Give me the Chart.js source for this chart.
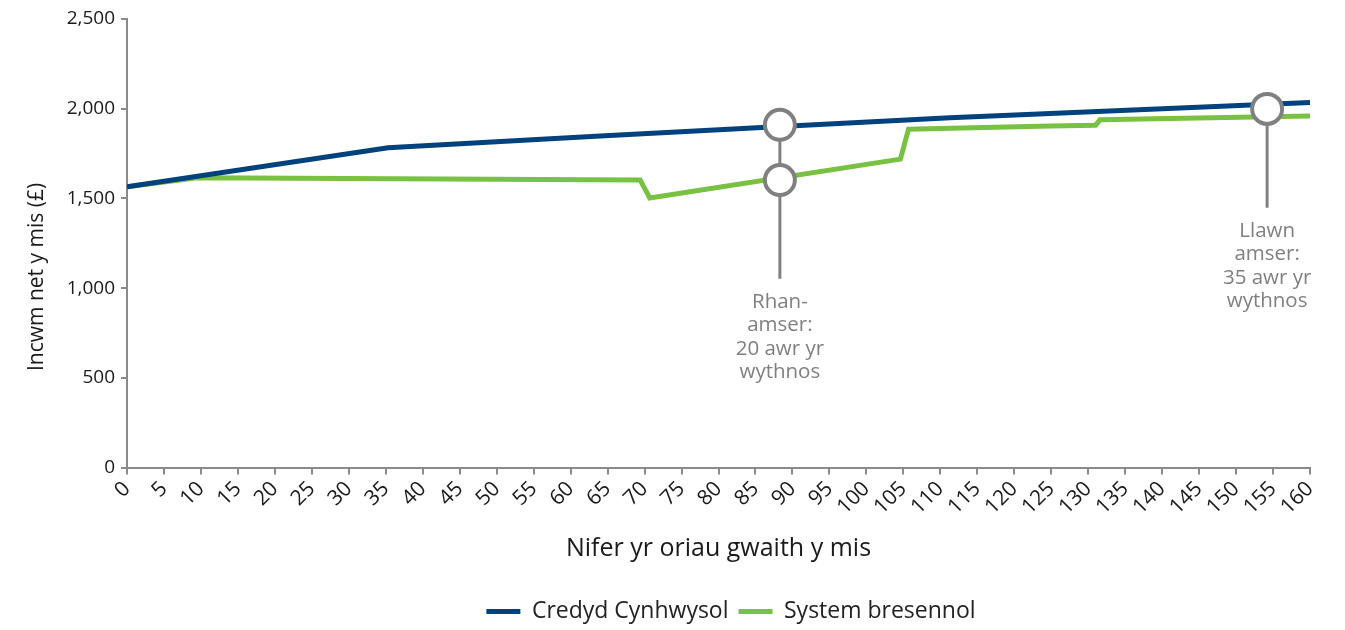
<!DOCTYPE html>
<html>
<head>
<meta charset="utf-8">
<script src="https://cdn.jsdelivr.net/npm/chart.js@4/dist/chart.umd.min.js"></script>
<style>
  html, body { margin: 0; padding: 0; background: #ffffff; }
  #wrap { width: 1345px; height: 630px; position: relative; }
</style>
</head>
<body>
<div id="wrap"><canvas id="c" width="1345" height="630"></canvas></div>
<script>
// ---- Data ----
const seriesNames = ['Credyd Cynhwysol', 'System bresennol'];
const ucHours  = [0, 35.3, 64.0, 88.4, 111.3, 160];
const ucIncome = [1565, 1782, 1848, 1901, 1950, 2034];
const legacyHours  = [0, 9.5, 69.4, 70.7, 104.6, 105.7, 124.9, 131.0, 131.6, 160];
const legacyIncome = [1565, 1615, 1603, 1502, 1719, 1886, 1904, 1908, 1938, 1960];
const markerHours  = [88.3, 88.3, 154.2];
const markerIncome = [1910, 1602, 1999];
// callouts: x, top of stem (income), bottom of stem (income), text lines
const calloutHours = [88.3, 154.2];
const calloutTop = [1910, 1999];
const calloutBottom = [1052, 1448];
const calloutText = [
  ['Rhan-', 'amser:', '20 awr yr', 'wythnos'],
  ['Llawn', 'amser:', '35 awr yr', 'wythnos']
];
const xTitle = 'Nifer yr oriau gwaith y mis';
const yTitle = 'Incwm net y mis (£)';

const BLUE = '#00427d';
const GREEN = '#78c142';
const GREY = '#808080';
const AXIS = '#8a8a8a';
const FONT = "'Open Sans', 'Noto Sans', sans-serif";

const toXY = (xs, ys) => xs.map((x, i) => ({x: x, y: ys[i]}));

const calloutPlugin = {
  id: 'callouts',
  afterLayout(chart) {
    const l = chart.legend;
    if (l) { l.left += 76; l.right += 76; l.top += 3; l.bottom += 3; }
  },
  beforeDatasetsDraw(chart) {
    const {ctx, scales: {x, y}} = chart;
    ctx.save();
    ctx.strokeStyle = GREY;
    ctx.lineWidth = 3;
    calloutHours.forEach((h, i) => {
      const px = x.getPixelForValue(h);
      ctx.beginPath();
      ctx.moveTo(px, y.getPixelForValue(calloutTop[i]));
      ctx.lineTo(px, y.getPixelForValue(calloutBottom[i]));
      ctx.stroke();
    });
    ctx.restore();
  },
  afterDatasetsDraw(chart) {
    const {ctx, scales: {x, y}} = chart;
    ctx.save();
    ctx.fillStyle = GREY;
    ctx.font = "20.5px " + FONT;
    ctx.textAlign = 'center';
    ctx.textBaseline = 'alphabetic';
    calloutHours.forEach((h, i) => {
      const px = x.getPixelForValue(h);
      const py = y.getPixelForValue(calloutBottom[i]);
      calloutText[i].forEach((t, j) => {
        ctx.fillText(t, px, py + 29 + j * 23.5);
      });
    });
    // y axis title
    ctx.fillStyle = '#1a1a1a';
    ctx.font = "21px " + FONT;
    ctx.textBaseline = 'middle';
    ctx.translate(37, 277);
    ctx.rotate(-Math.PI / 2);
    ctx.fillText(yTitle, 0, 0);
    ctx.restore();
  }
};

new Chart(document.getElementById('c'), {
  type: 'line',
  data: {
    datasets: [
      {
        label: '',
        data: toXY(markerHours, markerIncome),
        showLine: false,
        pointRadius: 15,
        pointHoverRadius: 15,
        pointBackgroundColor: '#ffffff',
        pointBorderColor: GREY,
        pointBorderWidth: 4,
        borderColor: GREY,
        order: 0
      },
      {
        label: seriesNames[0],
        data: toXY(ucHours, ucIncome),
        borderColor: BLUE,
        backgroundColor: BLUE,
        borderWidth: 5,
        pointRadius: 0,
        tension: 0,
        order: 1
      },
      {
        label: seriesNames[1],
        data: toXY(legacyHours, legacyIncome),
        borderColor: GREEN,
        backgroundColor: GREEN,
        borderWidth: 5,
        pointRadius: 0,
        tension: 0,
        order: 2
      }
    ]
  },
  options: {
    responsive: false,
    animation: false,
    events: [],
    layout: { padding: { top: 8, right: 35, left: 0, bottom: 0 } },
    plugins: {
      tooltip: { enabled: false },
      legend: {
        position: 'bottom',
        labels: {
          filter: (item) => item.text !== '',
          usePointStyle: true,
          pointStyle: 'line',
          pointStyleWidth: 34,
          boxHeight: 23,
          padding: 10,
          color: '#222222',
          font: { family: FONT, size: 23 }
        }
      }
    },
    scales: {
      x: {
        type: 'linear',
        min: 0,
        max: 160,
        afterFit: (s) => { s.height = 119.5; },
        ticks: {
          stepSize: 5,
          autoSkip: false,
          minRotation: 45,
          maxRotation: 45,
          padding: 2,
          color: '#1a1a1a',
          font: { family: FONT, size: 21 }
        },
        grid: { drawOnChartArea: false, drawTicks: true, tickLength: 7, color: AXIS, lineWidth: 2 },
        border: { display: true, color: AXIS, width: 2 },
        title: {
          display: true,
          text: xTitle,
          color: '#1a1a1a',
          font: { family: FONT, size: 25 },
          padding: { top: 0, bottom: 23.5 }
        }
      },
      y: {
        min: 0,
        max: 2500,
        afterFit: (s) => { s.width = 127; },
        ticks: {
          stepSize: 500,
          padding: 6,
          color: '#1a1a1a',
          font: { family: FONT, size: 19 },
          callback: (v) => Number(v).toLocaleString('en-US')
        },
        grid: { drawOnChartArea: false, drawTicks: true, tickLength: 6, color: AXIS, lineWidth: 2 },
        border: { display: true, color: AXIS, width: 2 },
        title: { display: false }
      }
    }
  },
  plugins: [calloutPlugin]
});
</script>
</body>
</html>
